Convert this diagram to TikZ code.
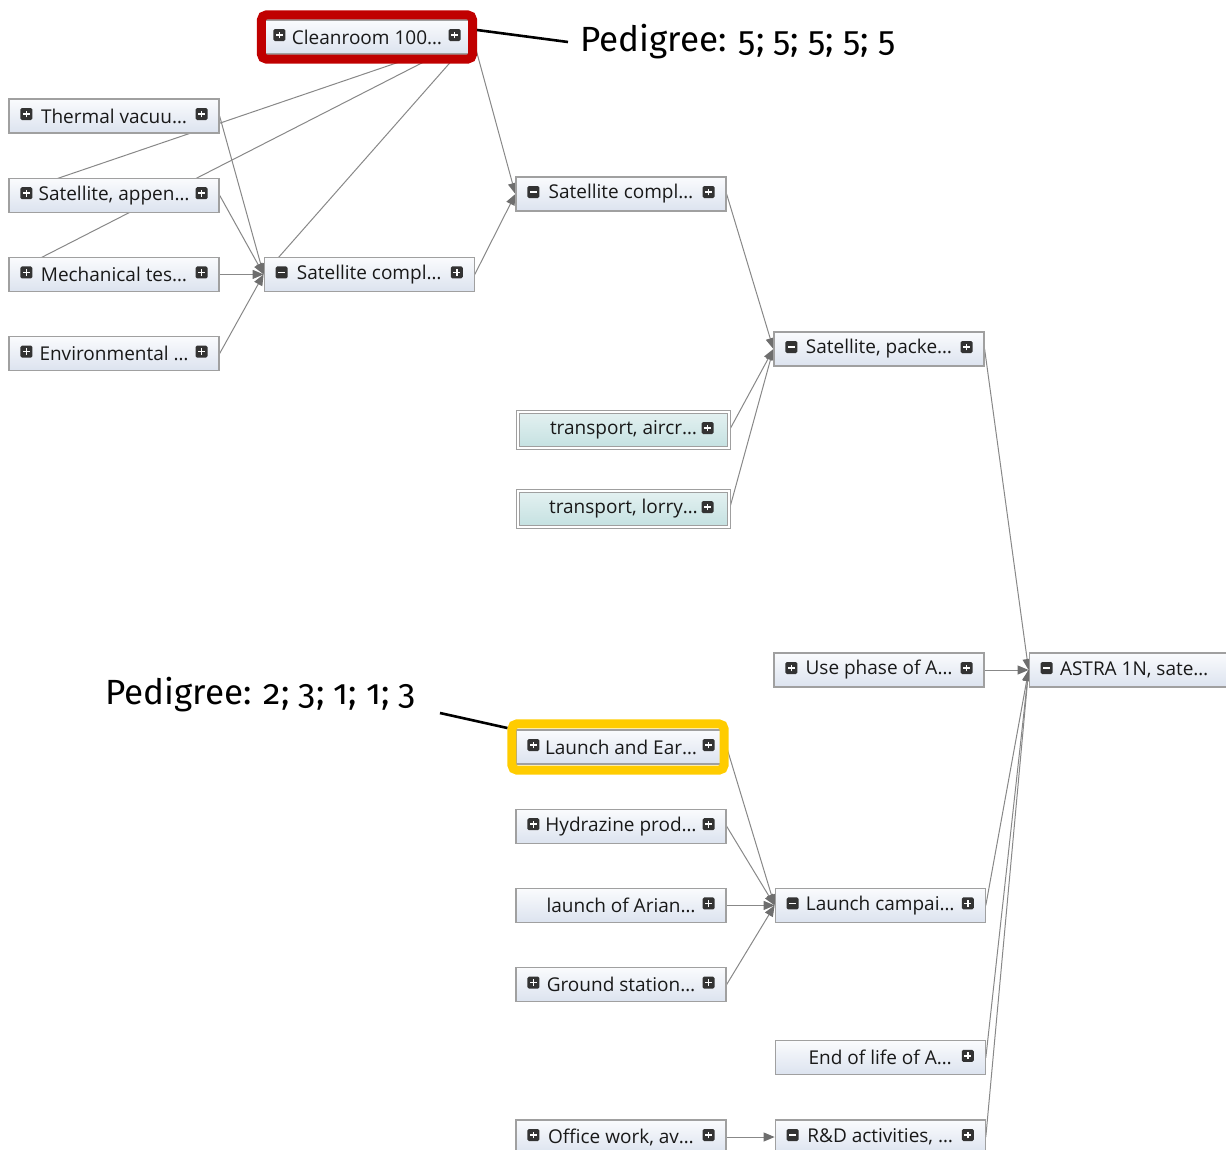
\documentclass[tikz,border=0pt]{standalone}
\usepackage{fontspec}
\setmainfont{Open Sans}
\newfontfamily\pedfont[Numbers=OldStyle]{Fira Sans}
\usepackage{tikz}
\usetikzlibrary{positioning,arrows.meta,fit,calc}
\definecolor{boxline}{RGB}{160,160,160}
\definecolor{boxtop}{RGB}{250,251,253}
\definecolor{boxbot}{RGB}{220,227,239}
\definecolor{tealtop}{RGB}{228,241,241}
\definecolor{tealbot}{RGB}{196,225,225}
\definecolor{edgegray}{RGB}{136,136,136}
\definecolor{tipgray}{RGB}{110,110,110}
\definecolor{markred}{RGB}{192,0,0}
\definecolor{markyellow}{RGB}{255,204,0}
\pgfdeclarelayer{bg}
\pgfsetlayers{bg,main}

\begin{document}
\begin{tikzpicture}[x=1pt, y=-1pt,
  node distance=44pt and 44pt,
  proc/.style={draw=boxline, line width=1.2pt, top color=boxtop, bottom color=boxbot, minimum width=210pt, minimum height=34pt, inner sep=0pt, font=\fontsize{19}{22}\selectfont, text=black!90},
  tproc/.style={proc, draw=gray!75, double=white, double distance=2.4pt, line width=1pt, top color=tealtop, bottom color=tealbot, minimum width=211pt, minimum height=36pt},
  ic/.style={rectangle, rounded corners=1.5pt, fill=black!80, minimum size=12pt, inner sep=0pt},
  plusic/.style={ic, path picture={\draw[white, line width=1.7pt] ([xshift=-3.4pt]path picture bounding box.center) -- ([xshift=3.4pt]path picture bounding box.center) ([yshift=-3.4pt]path picture bounding box.center) -- ([yshift=3.4pt]path picture bounding box.center);}},
  minusic/.style={ic, path picture={\draw[white, line width=1.7pt] ([xshift=-3.4pt]path picture bounding box.center) -- ([xshift=3.4pt]path picture bounding box.center);}},
  link/.style={draw=edgegray, line width=1pt, -{Triangle[length=11pt, width=9pt, color=tipgray]}},
  hilite/.style={draw=#1, line width=9pt, rounded corners=5pt, inner sep=0pt},
  pedlabel/.style={font=\pedfont\fontsize{35}{39}\selectfont, inner sep=0pt},
  callout/.style={draw=black, line width=2.6pt}]
\useasboundingbox (0,0) rectangle (1226,1149);
\clip (0,0) rectangle (1226,1149);
% first column
\node[proc] (thermal) at (114,116) {Thermal vacuu…};
\node[proc, below=of thermal] (appen) {Satellite, appen…};
\node[proc, below=of appen] (mech) {Mechanical tes…};
\node[proc, below=of mech] (env) {Environmental …};
% second column
\node[proc] (clean) at (367,37) {Cleanroom 100…};
\node[proc, right=of mech] (compl2) {Satellite compl…};
% third column
\node[proc] (compltop) at (621,194) {Satellite compl…};
\node[tproc] (aircr) at (623.5,430) {transport, aircr…};
\node[tproc, below=42pt of aircr] (lorry) {transport, lorry…};
\node[proc] (launch) at (621,747) {Launch and Ear…};
\node[proc, below=of launch] (hydra) {Hydrazine prod…};
\node[proc, below=of hydra] (arian) {launch of Arian…};
\node[proc, below=of arian] (ground) {Ground station…};
\node[proc] (office) at (621,1137) {Office work, av…};
% fourth column
\node[proc] (packe) at (879,349) {Satellite, packe…};
\node[proc] (use) at (879,670) {Use phase of A…};
\node[proc, right=48pt of arian] (campai) {Launch campai…};
\node[proc, right=48pt of office] (rnd) {R\&D activities, …};
\node[proc, above=of rnd] (eol) {End of life of A…};
% last column
\node[proc, right=of use] (astra) {ASTRA 1N, sate…};

% expand/collapse icons
\foreach \n in {clean,thermal,appen,mech,env,compl2,compltop,packe,use,campai,eol,rnd,launch,hydra,arian,ground,office}
  \node[plusic] (\n-r) at ([xshift=-18pt, yshift=2pt]\n.east) {};
\foreach \n in {aircr,lorry}
  \node[plusic] (\n-r) at ([xshift=-22pt, yshift=2pt]\n.east) {};
\foreach \n in {clean,thermal,appen,mech,env,use,launch,hydra,ground,office}
  \node[plusic] (\n-l) at ([xshift=18pt, yshift=2pt]\n.west) {};
\foreach \n in {compl2,compltop,packe,astra,campai,rnd}
  \node[minusic] (\n-l) at ([xshift=18pt, yshift=2pt]\n.west) {};

% connectors, under the boxes
\begin{pgfonlayer}{bg}
\foreach \a/\b in {clean/compltop, clean/appen, clean/mech, clean/compl2,
    thermal/compl2, appen/compl2, mech/compl2, env/compl2, compl2/compltop,
    compltop/packe, aircr/packe, lorry/packe,
    packe/astra, use/astra, campai/astra, eol/astra, rnd/astra,
    launch/campai, hydra/campai, arian/campai, ground/campai, office/rnd}
  \draw[link] (\a.east) -- (\b.west);
\end{pgfonlayer}

% highlighted processes
\node[hilite=markred, fit=(clean), inner ysep=4.5pt] (cleanmark) {};
\node[hilite=markyellow, fit=(launch), inner xsep=0.5pt, inner ysep=5.5pt, xshift=-3pt] (launchmark) {};
\node[pedlabel, anchor=west] (ped1) at (580,42) {Pedigree: 5; 5; 5; 5; 5};
\node[pedlabel, anchor=west] (ped2) at (105,695) {Pedigree: 2; 3; 1; 1; 3};
\draw[callout] ([yshift=7pt]cleanmark.east) -- ([xshift=-12pt]ped1.west);
\draw[callout] ($(ped2.east)+(24,18)$) -- ([yshift=19pt]launchmark.west);
\end{tikzpicture}
\end{document}
